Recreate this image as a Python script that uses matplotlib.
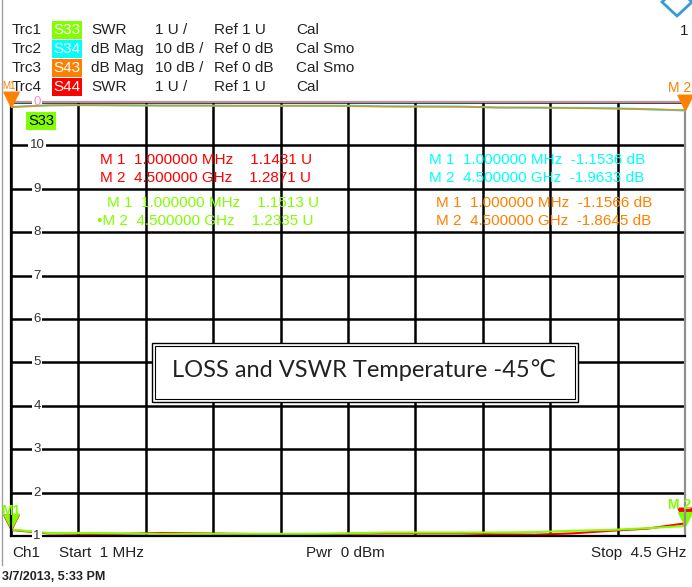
import numpy as np
import matplotlib.pyplot as plt
from matplotlib.patches import Rectangle, Polygon

# sweep points (GHz) and trace values
freq = [0.001, 0.25, 0.5, 0.75, 1.0, 1.25, 1.5, 1.75, 2.0, 2.25, 2.5, 2.75, 3.0, 3.25, 3.5, 3.75, 4.0, 4.25, 4.5]
s33_swr = [1.15, 1.07, 1.07, 1.06, 1.05, 1.05, 1.05, 1.05, 1.05, 1.06, 1.08, 1.08, 1.08, 1.08, 1.09, 1.12, 1.14, 1.18, 1.23]
s44_swr = [1.14, 1.06, 1.05, 1.05, 1.07, 1.06, 1.05, 1.04, 1.04, 1.05, 1.06, 1.06, 1.06, 1.04, 1.03, 1.06, 1.12, 1.17, 1.29]
s34_db = [-1.15, -0.75, -0.7, -0.75, -0.8, -0.8, -0.85, -0.85, -0.85, -0.85, -1.0, -1.05, -1.05, -1.25, -1.3, -1.35, -1.45, -1.65, -1.96]
s43_db = [-1.16, -0.8, -0.75, -0.8, -0.85, -0.85, -0.9, -0.9, -0.9, -0.95, -1.05, -1.05, -1.1, -1.3, -1.3, -1.4, -1.5, -1.7, -1.86]

swr_ticks = [1, 2, 3, 4, 5, 6, 7, 8, 9, 10]

header = [
    ('Trc1', 'S33', 'SWR', '1 U /', 'Ref 1 U', 'Cal'),
    ('Trc2', 'S34', 'dB Mag', '10 dB /', 'Ref 0 dB', 'Cal Smo'),
    ('Trc3', 'S43', 'dB Mag', '10 dB /', 'Ref 0 dB', 'Cal Smo'),
    ('Trc4', 'S44', 'SWR', '1 U /', 'Ref 1 U', 'Cal'),
]

green = '#80ff00'
cyan = '#00ffff'
orange = '#ff8000'
red = '#ff0000'
badge_col = [green, cyan, orange, red]

W, H = 692, 587
fig = plt.figure(figsize=(W / 100, H / 100), dpi=100)
plt.rcParams['font.family'] = ['Liberation Sans', 'DejaVu Sans']


def px(x, y):
    return x / W, 1 - y / H


# plot area in pixels: x 11..685, y 102..536
ax = fig.add_axes([11 / W, (H - 536) / H, 674 / W, 434 / H])
ax.set_xlim(0.001, 4.5)
ax.set_ylim(1, 11)
ax.set_xticks(np.linspace(0.001, 4.5, 11))
ax.set_yticks(range(1, 12))
ax.tick_params(length=0, labelleft=False, labelbottom=False)
ax.grid(True, color='black', lw=1.8)
ax.spines['left'].set_color('black')
ax.spines['bottom'].set_color('black')
ax.spines['top'].set_color('#b8909c')
ax.spines['right'].set_color('#909090')
for s in ax.spines.values():
    s.set_linewidth(1.6)

ax2 = ax.twinx()
ax2.set_ylim(-100, 0)
ax2.set_yticks([])
for s in ax2.spines.values():
    s.set_visible(False)

ax2.plot(freq, s34_db, color=cyan, lw=1.5)
ax2.plot(freq, s43_db, color=orange, lw=1.2, alpha=0.85)
ax.plot(freq, s44_swr, color=red, lw=1.5)
ax.plot(freq, s33_swr, color=green, lw=1.5)

# y labels sitting on the grid lines
for v in swr_ticks:
    ax.text(0.0386, v, str(v), transform=ax.get_yaxis_transform(), ha='center', va='center',
            fontsize=9.5, color='#333333', bbox=dict(facecolor='white', edgecolor='none', pad=1.2))
ax.text(0.0386, 1.0, '0', transform=ax.transAxes, ha='center', va='center',
        fontsize=9.5, color='#ff88cc', bbox=dict(facecolor='white', edgecolor='none', pad=0.8))

# marker triangles (tip at data point)
tri = [(-1, 2), (1, 2), (0, 0), (-1, 2)]
ax2.plot([freq[0]], [s43_db[0]], marker=tri, ms=22, color=orange, clip_on=False)
ax2.plot([freq[-1]], [s43_db[-1]], marker=tri, ms=22, color=orange, clip_on=False)
ax.plot([freq[0]], [s44_swr[0]], marker=tri, ms=22, color=red, clip_on=False)
ax.plot([freq[0]], [s33_swr[0]], marker=tri, ms=20, color=green, clip_on=False)
ax.plot([freq[-1]], [s44_swr[-1]], marker=tri, ms=22, color=red, clip_on=False)
ax.plot([freq[-1]], [s33_swr[-1]], marker=tri, ms=20, color=green, clip_on=False)

fig.text(*px(2, 86), 'M1', color=orange, fontsize=7, ha='left', va='center')
fig.text(*px(691, 88), 'M 2', color=orange, fontsize=10, ha='right', va='center')
fig.text(*px(11, 511), 'M1', color=green, fontsize=10, ha='center', va='center', fontweight='bold')
fig.text(*px(691, 505), 'M 2', color=green, fontsize=10, ha='right', va='center', fontweight='bold')

# trace badge inside the plot
fig.text(*px(41, 121), 'S33', fontsize=10.5, ha='center', va='center',
         bbox=dict(facecolor=green, edgecolor='none', pad=1.5))

# marker readouts
ro = 11
fig.text(*px(100, 160), 'M 1  1.000000 MHz    1.1431 U', color=red, fontsize=ro, va='center')
fig.text(*px(100, 178), 'M 2  4.500000 GHz    1.2871 U', color=red, fontsize=ro, va='center')
fig.text(*px(107, 203), 'M 1  1.000000 MHz    1.1513 U', color=green, fontsize=ro, va='center')
fig.text(*px(97, 221), '\u2022M 2  4.500000 GHz    1.2335 U', color=green, fontsize=ro, va='center')
fig.text(*px(429, 160), 'M 1  1.000000 MHz  -1.1536 dB', color=cyan, fontsize=ro, va='center')
fig.text(*px(429, 178), 'M 2  4.500000 GHz  -1.9633 dB', color=cyan, fontsize=ro, va='center')
fig.text(*px(436, 203), 'M 1  1.000000 MHz  -1.1566 dB', color=orange, fontsize=ro, va='center')
fig.text(*px(436, 221), 'M 2  4.500000 GHz  -1.8645 dB', color=orange, fontsize=ro, va='center')

# title box
x0, y0, x1, y1 = 152, 343, 578, 402
fig.patches.append(Rectangle(px(x0, y1), (x1 - x0) / W, (y1 - y0) / H, transform=fig.transFigure,
                             facecolor='white', edgecolor='black', lw=1.0, zorder=5))
fig.patches.append(Rectangle(px(x0 + 3, y1 - 3), (x1 - x0 - 6) / W, (y1 - y0 - 6) / H, transform=fig.transFigure,
                             facecolor='white', edgecolor='black', lw=0.8, zorder=5))
fig.text(*px(172, 370), 'LOSS and VSWR Temperature -45\u2103', fontsize=17, va='center',
         family=['Lato', 'DejaVu Sans'], color='#222222', zorder=6)

# header rows
cols = [12, 52, 91, 155, 214, 296]
rows = [30, 49, 68, 87]
for r, row in enumerate(header):
    yy = rows[r]
    fig.patches.append(Rectangle(px(52, yy + 9.3), 30 / W, 18.6 / H, transform=fig.transFigure,
                                 facecolor=badge_col[r], edgecolor='none', zorder=1))
    for c, t in enumerate(row):
        if c == 1:
            fig.text(*px(67, yy), t, color='white', fontsize=11, ha='center', va='center', zorder=2)
        else:
            fig.text(*px(cols[c], yy), t, color='#222222', fontsize=11, va='center', zorder=2)

# bottom status line
fig.text(*px(12, 553), 'Ch1', fontsize=11, va='center', color='#222222')
fig.text(*px(59, 553), 'Start  1 MHz', fontsize=11, va='center', color='#222222')
fig.text(*px(306, 553), 'Pwr  0 dBm', fontsize=11, va='center', color='#222222')
fig.text(*px(686, 553), 'Stop  4.5 GHz', fontsize=11, va='center', ha='right', color='#222222')
fig.text(*px(2, 577), '3/7/2013, 5:33 PM', fontsize=9, va='center', fontweight='bold', color='#222222')

# channel number and icon at top right
fig.text(*px(680, 31), '1', fontsize=11, va='center', color='#222222')
fig.patches.append(Polygon([px(662, 2), px(677, -12), px(692, 2), px(677, 16)], closed=True,
                           transform=fig.transFigure, facecolor='white', edgecolor='#3a9ad9', lw=2))

# grey frame line on the left
fig.add_artist(plt.Line2D([2 / W, 2 / W], [1 - 565 / H, 1], transform=fig.transFigure, color='#a0a0a0', lw=1))

fig.savefig('out.png', dpi=100)
